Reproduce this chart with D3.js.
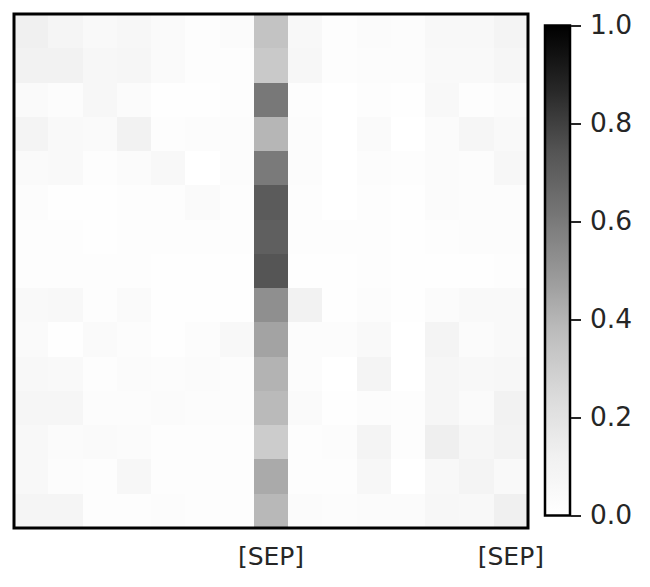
<!DOCTYPE html>
<html>
<head>
<meta charset="utf-8">
<script src="https://cdn.jsdelivr.net/npm/d3@7"></script>
<style>
	body { margin: 0; background: #fff; }
	svg { font-family: "DejaVu Sans", sans-serif; }
	.axis path.domain { display: none; }
	.axis text { fill: #262626; }
	.cbar .tick line { stroke: #262626; stroke-width: 2; }
</style>
</head>
<body>
<div id="chart"></div>
<script>
// token labels along the x axis (only the [SEP] tokens are shown)
const xLabels = ['', '', '', '', '', '', '', '[SEP]', '', '', '', '', '', '', '[SEP]'];

// attention weights, one array per query row
const row0 = [0.125, 0.083, 0.05, 0.067, 0.042, 0.017, 0.033, 0.348, 0.058, 0.017, 0.033, 0.025, 0.058, 0.058, 0.092];
const row1 = [0.108, 0.108, 0.067, 0.075, 0.042, 0.017, 0.017, 0.321, 0.067, 0.017, 0.025, 0.025, 0.05, 0.05, 0.075];
const row2 = [0.042, 0.025, 0.067, 0.033, 0.008, 0.008, 0.017, 0.607, 0.017, 0.0, 0.017, 0.008, 0.058, 0.017, 0.033];
const row3 = [0.092, 0.05, 0.042, 0.108, 0.017, 0.025, 0.025, 0.397, 0.025, 0.0, 0.042, 0.0, 0.033, 0.075, 0.05];
const row4 = [0.042, 0.05, 0.017, 0.033, 0.058, 0.0, 0.025, 0.6, 0.025, 0.0, 0.025, 0.017, 0.033, 0.025, 0.067];
const row5 = [0.025, 0.008, 0.008, 0.017, 0.017, 0.042, 0.017, 0.716, 0.017, 0.0, 0.017, 0.008, 0.033, 0.025, 0.025];
const row6 = [0.017, 0.017, 0.008, 0.017, 0.017, 0.017, 0.017, 0.701, 0.017, 0.017, 0.017, 0.008, 0.017, 0.025, 0.025];
const row7 = [0.017, 0.017, 0.017, 0.017, 0.008, 0.008, 0.008, 0.739, 0.008, 0.008, 0.017, 0.008, 0.008, 0.008, 0.017];
const row8 = [0.05, 0.058, 0.017, 0.042, 0.008, 0.008, 0.008, 0.525, 0.108, 0.008, 0.025, 0.008, 0.033, 0.05, 0.05];
const row9 = [0.042, 0.008, 0.042, 0.025, 0.008, 0.025, 0.058, 0.458, 0.025, 0.025, 0.05, 0.0, 0.092, 0.033, 0.05];
const row10 = [0.058, 0.05, 0.017, 0.033, 0.025, 0.033, 0.025, 0.407, 0.025, 0.0, 0.092, 0.0, 0.075, 0.058, 0.067];
const row11 = [0.075, 0.075, 0.025, 0.025, 0.033, 0.025, 0.025, 0.385, 0.042, 0.008, 0.025, 0.017, 0.075, 0.042, 0.108];
const row12 = [0.058, 0.033, 0.042, 0.033, 0.017, 0.017, 0.017, 0.308, 0.017, 0.025, 0.092, 0.017, 0.133, 0.075, 0.1];
const row13 = [0.058, 0.025, 0.017, 0.067, 0.017, 0.017, 0.017, 0.436, 0.017, 0.017, 0.067, 0.0, 0.058, 0.092, 0.05];
const row14 = [0.083, 0.083, 0.017, 0.017, 0.025, 0.017, 0.017, 0.391, 0.033, 0.025, 0.033, 0.033, 0.067, 0.058, 0.125];
const attention = [row0, row1, row2, row3, row4, row5, row6, row7, row8, row9, row10, row11, row12, row13, row14];

const colorbarTicks = [0, 0.2, 0.4, 0.6, 0.8, 1.0];

// matplotlib "Greys" colormap stops
const greysStops = ['#ffffff', '#f0f0f0', '#d9d9d9', '#bdbdbd', '#969696', '#737373', '#525252', '#252525', '#000000'];

const width = 650;
const height = 587;

const svg = d3.select('#chart').append('svg')
	.attr('width', width)
	.attr('height', height);

const color = d3.scaleLinear()
	.domain(greysStops.map((c, i) => i / (greysStops.length - 1)))
	.range(greysStops)
	.clamp(true);

const n = xLabels.length;
const x = d3.scaleBand().domain(d3.range(n)).range([14, 528]);
const y = d3.scaleBand().domain(d3.range(attention.length)).range([14, 528]);

const cells = attention.flatMap((row, r) => row.map((v, c) => ({ r, c, v })));

svg.append('g')
	.selectAll('rect')
	.data(cells)
	.join('rect')
	.attr('x', d => x(d.c))
	.attr('y', d => y(d.r))
	.attr('width', x.bandwidth() + 0.5)
	.attr('height', y.bandwidth() + 0.5)
	.attr('fill', d => color(d.v))
	.attr('shape-rendering', 'crispEdges');

// frame around the heatmap
svg.append('rect')
	.attr('x', x.range()[0])
	.attr('y', y.range()[0])
	.attr('width', x.range()[1] - x.range()[0])
	.attr('height', y.range()[1] - y.range()[0])
	.attr('fill', 'none')
	.attr('stroke', '#000')
	.attr('stroke-width', 3);

svg.append('g')
	.attr('class', 'axis')
	.attr('transform', `translate(0,${y.range()[1]})`)
	.call(d3.axisBottom(x).tickSize(0).tickPadding(19).tickFormat(i => xLabels[i]))
	.call(g => g.selectAll('text').attr('font-size', 25).attr('font-family', '"DejaVu Sans", sans-serif'));

// colorbar
const cbX = 545;
const cbW = 25;
const cbScale = d3.scaleLinear().domain([0, 1]).range([515.5, 25.5]);

const grad = svg.append('defs').append('linearGradient')
	.attr('id', 'cbgrad')
	.attr('x1', 0).attr('y1', 1)
	.attr('x2', 0).attr('y2', 0);

grad.selectAll('stop')
	.data(d3.range(0, 1.0001, 0.02))
	.join('stop')
	.attr('offset', d => d)
	.attr('stop-color', d => color(d));

svg.append('rect')
	.attr('x', cbX)
	.attr('y', cbScale(1))
	.attr('width', cbW)
	.attr('height', cbScale(0) - cbScale(1))
	.attr('fill', 'url(#cbgrad)')
	.attr('stroke', '#000')
	.attr('stroke-width', 2.5);

svg.append('g')
	.attr('class', 'axis cbar')
	.attr('transform', `translate(${cbX + cbW + 1},0)`)
	.call(d3.axisRight(cbScale).tickValues(colorbarTicks).tickSize(10).tickPadding(9).tickFormat(d3.format('.1f')))
	.call(g => g.selectAll('text').attr('font-size', 26.5).attr('font-family', '"DejaVu Sans", sans-serif'));
</script>
</body>
</html>
